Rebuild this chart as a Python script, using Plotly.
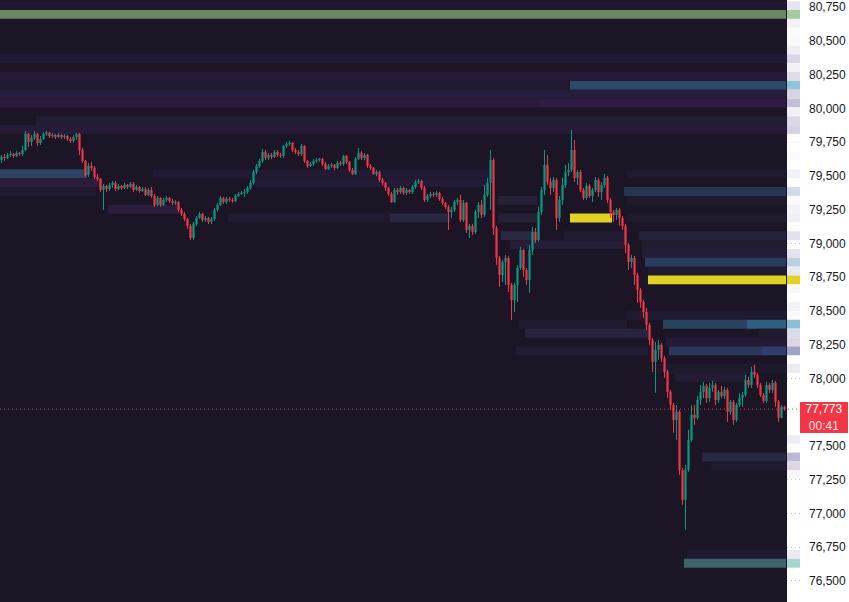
import plotly.graph_objects as go

# ---------------- candle data (price) ----------------
first_open = 79619
closes = [
    79641, 79634, 79656, 79663, 79649, 79671, 79663, 79693, 79811, 79752,
    79782, 79811, 79745, 79774, 79811, 79819, 79797, 79804, 79789, 79804,
    79789, 79797, 79774, 79760, 79789, 79811, 79693, 79612, 79508, 79575,
    79560, 79493, 79478, 79397, 79426, 79404, 79434, 79449, 79404, 79426,
    79412, 79434, 79419, 79441, 79397, 79419, 79389, 79404, 79360, 79397,
    79352, 79286, 79338, 79286, 79323, 79338, 79315, 79301, 79308, 79249,
    79219, 79182, 79130, 79041, 79145, 79189, 79219, 79175, 79189, 79160,
    79182, 79249, 79286, 79338, 79308, 79330, 79323, 79315, 79352, 79367,
    79375, 79382, 79412, 79449, 79530, 79575, 79612, 79678, 79634, 79656,
    79641, 79678, 79656, 79649, 79723, 79737, 79745, 79693, 79678, 79663,
    79723, 79612, 79575, 79589, 79612, 79619, 79626, 79589, 79552, 79575,
    79582, 79560, 79597, 79589, 79649, 79604, 79545, 79515, 79626, 79671,
    79634, 79656, 79575, 79560, 79515, 79530, 79471, 79449, 79412, 79367,
    79308, 79397, 79382, 79412, 79375, 79397, 79382, 79419, 79456, 79463,
    79412, 79323, 79352, 79367, 79360, 79375, 79330, 79301, 79271, 79234,
    79249, 79308, 79323, 79175, 79301, 79100, 79130, 79086, 79234, 79286,
    79212, 79360, 79449, 79619, 79115, 78893, 78767, 78864, 78893, 78693,
    78582, 78693, 78819, 78952, 78804, 78730, 78952, 79086, 79026, 79234,
    79397, 79582, 79456, 79412, 79471, 79189, 79323, 79434, 79530, 79545,
    79693, 79486, 79530, 79397, 79338, 79426, 79352, 79397, 79471, 79382,
    79434, 79486, 79323, 79234, 79212, 79249, 79189, 79130, 78989, 78864,
    78893, 78767, 78656, 78567, 78493, 78397, 78286, 78123, 78212, 78249,
    78152, 78049, 77901, 77804, 77693, 77753, 77323, 77101, 77323, 77545,
    77730, 77708, 77841, 77901, 77945, 77856, 77930, 77952, 77841, 77901,
    77871, 77915, 77753, 77827, 77693, 77804, 77856, 77878, 77989, 77952,
    78049, 78027, 77952, 77878, 77834, 77952, 77915, 77967, 77827, 77708,
    77790, 77773,
]
highs = [
    79656, 79663, 79671, 79686, 79671, 79686, 79678, 79723, 79834, 79819,
    79804, 79834, 79819, 79797, 79826, 79834, 79826, 79819, 79811, 79819,
    79811, 79811, 79804, 79789, 79804, 79819, 79819, 79708, 79619, 79597,
    79604, 79575, 79515, 79486, 79441, 79434, 79449, 79463, 79463, 79441,
    79434, 79449, 79441, 79456, 79456, 79434, 79426, 79419, 79419, 79412,
    79419, 79367, 79352, 79345, 79338, 79352, 79345, 79330, 79323, 79315,
    79263, 79234, 79189, 79145, 79160, 79204, 79234, 79227, 79204, 79197,
    79197, 79263, 79301, 79352, 79345, 79345, 79345, 79338, 79367, 79382,
    79389, 79404, 79426, 79471, 79545, 79589, 79626, 79700, 79693, 79671,
    79671, 79693, 79693, 79671, 79730, 79752, 79760, 79752, 79708, 79693,
    79737, 79730, 79619, 79604, 79626, 79634, 79634, 79634, 79604, 79589,
    79597, 79589, 79612, 79612, 79656, 79656, 79612, 79560, 79641, 79708,
    79686, 79671, 79663, 79589, 79567, 79545, 79537, 79486, 79456, 79419,
    79382, 79412, 79412, 79426, 79419, 79412, 79404, 79434, 79471, 79478,
    79471, 79426, 79367, 79382, 79382, 79389, 79382, 79345, 79308, 79286,
    79271, 79323, 79338, 79360, 79323, 79308, 79145, 79145, 79249, 79308,
    79323, 79434, 79486, 79693, 79634, 79130, 78908, 78878, 78915, 78908,
    78708, 78708, 78841, 78975, 78960, 78819, 78989, 79123, 79115, 79271,
    79419, 79693, 79656, 79486, 79493, 79486, 79352, 79486, 79582, 79597,
    79841, 79767, 79545, 79545, 79412, 79449, 79441, 79412, 79493, 79486,
    79456, 79515, 79500, 79338, 79249, 79263, 79263, 79204, 79145, 79004,
    78915, 78908, 78782, 78671, 78582, 78523, 78412, 78301, 78271, 78286,
    78263, 78167, 78064, 77915, 77819, 77804, 77767, 77338, 77360, 77619,
    77804, 77804, 77871, 77952, 77975, 77960, 77967, 77982, 77967, 77915,
    77945, 77938, 77930, 77841, 77841, 77819, 77893, 77901, 78027, 78012,
    78086, 78101, 78041, 77967, 77893, 77975, 77967, 77989, 77982, 77841,
    77804, 77797,
]
lows = [
    79597, 79612, 79626, 79641, 79634, 79641, 79649, 79649, 79686, 79715,
    79723, 79767, 79723, 79730, 79767, 79797, 79782, 79782, 79774, 79782,
    79774, 79774, 79760, 79745, 79745, 79767, 79656, 79597, 79493, 79493,
    79537, 79478, 79463, 79382, 79249, 79382, 79389, 79412, 79389, 79397,
    79397, 79404, 79404, 79412, 79382, 79389, 79375, 79382, 79352, 79352,
    79338, 79271, 79278, 79271, 79278, 79308, 79301, 79286, 79286, 79234,
    79204, 79167, 79108, 79026, 79026, 79130, 79182, 79160, 79160, 79145,
    79145, 79167, 79234, 79278, 79293, 79293, 79308, 79301, 79308, 79345,
    79360, 79345, 79367, 79397, 79434, 79515, 79560, 79597, 79619, 79619,
    79626, 79634, 79641, 79634, 79634, 79708, 79723, 79678, 79663, 79649,
    79649, 79597, 79560, 79567, 79575, 79597, 79604, 79575, 79545, 79545,
    79560, 79545, 79552, 79575, 79575, 79589, 79530, 79508, 79508, 79619,
    79619, 79619, 79560, 79545, 79508, 79500, 79456, 79434, 79389, 79352,
    79301, 79301, 79360, 79367, 79360, 79360, 79367, 79367, 79404, 79441,
    79397, 79308, 79308, 79338, 79345, 79345, 79315, 79286, 79256, 79100,
    79189, 79234, 79286, 79160, 79160, 79078, 79041, 79063, 79071, 79189,
    79189, 79197, 79345, 79249, 79063, 78841, 78678, 78716, 78693, 78641,
    78434, 78493, 78567, 78804, 78753, 78693, 78634, 78915, 79004, 79012,
    79212, 79360, 79434, 79360, 79382, 79100, 79160, 79286, 79412, 79500,
    79530, 79456, 79434, 79382, 79323, 79323, 79338, 79308, 79382, 79345,
    79323, 79412, 79301, 79189, 79160, 79175, 79130, 79100, 78930, 78804,
    78819, 78693, 78560, 78523, 78449, 78360, 78249, 78049, 77893, 78138,
    78123, 78004, 77856, 77767, 77597, 77545, 77286, 77064, 76878, 77308,
    77530, 77656, 77693, 77804, 77856, 77819, 77827, 77901, 77804, 77819,
    77856, 77849, 77679, 77730, 77656, 77679, 77790, 77790, 77864, 77930,
    77930, 78004, 77930, 77864, 77819, 77819, 77893, 77893, 77790, 77679,
    77708, 77760,
]
opens = [first_open] + closes[:-1]
candle_idx = list(range(len(closes)))

# ---------------- order-book heat bands ----------------
level_step = 65.6
band_price = [80763, 80697, 80369, 80238, 80172, 80172, 80107, 80041, 80041, 79910, 79844,
              79517, 79517, 79517, 79451, 79451, 79385, 79385, 79320, 79320, 79254,
              79189, 79189, 79189, 79189, 79189, 79058, 79058, 79058, 78992, 78992, 78926, 78861, 78795, 78730,
              78467, 78402, 78402, 78402, 78336, 78336, 78271, 78205, 78205, 78205, 78074, 78008, 77418, 77352,
              76697, 76631]
band_start = [0, 0, 0, 0, 0, 190, 0, 0, 180, 12, 0,
              0, 51, 209, 0, 85, 0, 208, 166, 209, 36,
              76, 130, 166, 190, 209, 167, 188, 213, 170, 214, 214, 215, 216, 216,
              209, 173, 221, 249, 175, 253, 222, 172, 223, 254, 218, 225, 234, 237,
              229, 228]
band_end = [262, 262, 262, 262, 190, 262, 262, 180, 262, 262, 262,
            29, 163, 262, 34, 163, 32, 262, 179, 262, 60,
            130, 150, 179, 204, 262, 178, 209, 262, 208, 262, 262, 262, 262, 262,
            262, 209, 249, 262, 216, 262, 262, 216, 254, 262, 262, 249, 262, 262,
            262, 262]
band_color = ["#1e1930", "#6a8762", "#221b35", "#27193a", "#201a30", "#2c4a69", "#261e3c", "#2b1a3b", "#301b42", "#221c34", "#281b38",
              "#2e4262", "#221a32", "#1f1a2e", "#2a1d3b", "#241b35", "#211a31", "#273652", "#262139", "#1f1a2d", "#2b1d3c",
              "#211a31", "#2a2742", "#262036", "#e1d122", "#201a2f", "#2b2842", "#221c33", "#24233b", "#261c37", "#211c32", "#231e37", "#2a3d5c", "#1f1a2d", "#e1d122",
              "#211b31", "#1f1a2d", "#29435f", "#2e5e80", "#272340", "#201c30", "#231b35", "#221c33", "#2b385c", "#313d6a", "#1f192c", "#231c34", "#282a45", "#201a2e",
              "#211b31", "#3d6469"]

strip_price = [80763, 80697, 80631, 80566, 80500, 80434, 80369, 80303, 80238, 80172, 80107, 80041,
               79976, 79910, 79844, 79779, 79648, 79517, 79385, 79320, 79254, 79189, 79123, 79058,
               78926, 78861, 78795, 78730, 78664, 78533, 78467, 78402, 78336, 78271, 78205, 78074,
               77549, 77484, 77418, 77352, 77287, 76697, 76631]
strip_color = ["#e8e4f0", "#a6c99f", "#f3f1f7", "#fbfafc", "#faf9fb", "#f0eef5", "#dcd6e8", "#f3f1f7", "#e2dbe8", "#8ec5db", "#d6d4e6", "#c5bcd8",
               "#f2f0f6", "#dcd7e6", "#d6d1e4", "#fcfcfd", "#fbfbfc", "#f2f1f6", "#cfdbe8", "#faf9fb", "#f3f2f6", "#f0eff5", "#fbfbfc", "#e2e2ef",
               "#e4e2ee", "#bccfe3", "#e9e8f2", "#e1d122", "#f8f8fb", "#f2f1f6", "#fafafb", "#8cbfd7", "#d8dbe9", "#ddd5e6", "#a0a3c8", "#ebe9f1",
               "#efedf4", "#fbfbfc", "#bab8d6", "#ded5e5", "#f8f7fa", "#ebeaf1", "#a6d4d0"]

# visible price-scale labels (77,750 is hidden behind the last-price label)
price_ticks = [76500, 76750, 77000, 77250, 77500, 78000, 78250, 78500, 78750,
               79000, 79250, 79500, 79750, 80000, 80250, 80500, 80750]
last_price = closes[-1]
countdown = "00:41"

# ---------------- figure ----------------
BG = "#1c1525"
W, H = 849, 602
main_right = 787 / W
strip_right = 800 / W
yr = [76344, 80804]
FONT = "Liberation Sans, Arial, sans-serif"

fig = go.Figure()
fig.add_trace(go.Bar(
    y=band_price,
    x=[e - s for s, e in zip(band_start, band_end)],
    base=[s - 0.5 for s in band_start],
    orientation="h", width=level_step,
    marker=dict(color=band_color, line=dict(width=0)),
    xaxis="x", yaxis="y", hoverinfo="skip", showlegend=False))
fig.add_trace(go.Candlestick(
    x=candle_idx, open=opens, high=highs, low=lows, close=closes,
    increasing=dict(line=dict(color="#089981", width=1), fillcolor="#089981"),
    decreasing=dict(line=dict(color="#f23645", width=1), fillcolor="#f23645"),
    whiskerwidth=0, xaxis="x", yaxis="y", showlegend=False, hoverinfo="skip"))
fig.add_trace(go.Bar(
    y=strip_price, x=[1] * len(strip_price), base=0,
    orientation="h", width=level_step,
    marker=dict(color=strip_color, line=dict(width=0)),
    xaxis="x2", yaxis="y2", hoverinfo="skip", showlegend=False))

fig.update_layout(
    width=W, height=H, margin=dict(l=0, r=0, t=0, b=0),
    paper_bgcolor="white", plot_bgcolor="white",
    barmode="overlay", boxgap=0.45, showlegend=False,
    xaxis=dict(domain=[0, main_right], range=[-0.5, 261.83], visible=False,
               rangeslider=dict(visible=False), anchor="y"),
    yaxis=dict(range=yr, visible=False, anchor="x"),
    xaxis2=dict(domain=[main_right, strip_right], range=[0, 1], visible=False, anchor="y2"),
    yaxis2=dict(range=yr, anchor="x2", side="right", showgrid=True, gridcolor="#c4c4cc",
                griddash="1px,3px", gridwidth=1, zeroline=False, showline=False,
                tickmode="array", tickvals=price_ticks,
                ticktext=[f"{v:,}" for v in price_ticks],
                tickfont=dict(family=FONT, size=12, color="#131722"),
                ticks="", ticklabelstandoff=8),
    shapes=[
        dict(type="rect", xref="x domain", yref="y domain", x0=0, x1=1, y0=0, y1=1,
             fillcolor=BG, line=dict(width=0), layer="below"),
        dict(type="line", xref="paper", x0=0, x1=strip_right, yref="y",
             y0=last_price, y1=last_price,
             line=dict(color="#f23645", width=1, dash="1px,3px"), layer="above"),
        # red price-label box anchored at the last price (pixel-sized)
        dict(type="rect", xref="paper", x0=strip_right, x1=848 / W,
             yref="y", ysizemode="pixel", yanchor=last_price, y0=7, y1=-24,
             fillcolor="#f23645", line=dict(width=0), layer="above"),
    ],
)
fig.add_annotation(
    xref="paper", x=strip_right, xanchor="left", yref="y", y=last_price,
    yanchor="middle", yshift=1, text=f"{last_price:,}", showarrow=False,
    font=dict(family=FONT, size=12, color="white"),
    align="center", width=46, height=13, borderpad=0)
fig.add_annotation(
    xref="paper", x=strip_right, xanchor="left", yref="y", y=last_price,
    yanchor="middle", yshift=-16, text=countdown, showarrow=False,
    font=dict(family=FONT, size=12, color="rgba(255,255,255,0.88)"),
    align="center", width=46, height=13, borderpad=0)

fig.write_html("out.html", config={"displayModeBar": False},
               post_script="document.body.style.margin='0px';document.body.style.padding='0px';")
